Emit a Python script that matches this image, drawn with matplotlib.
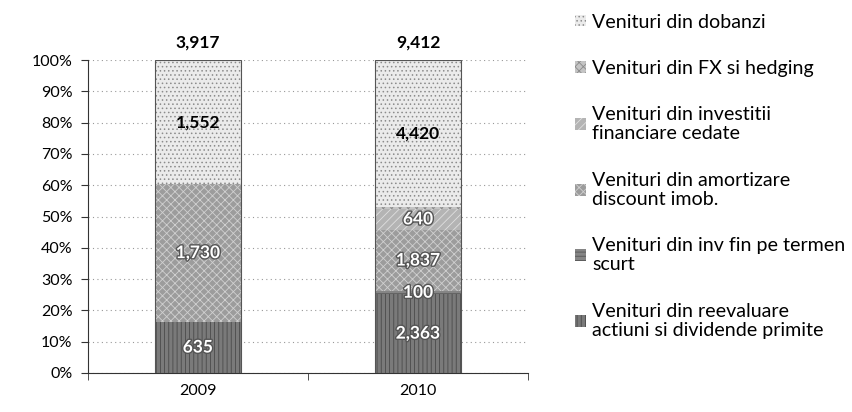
import matplotlib
matplotlib.use("Agg")
import matplotlib.pyplot as plt
import matplotlib.patheffects as pe
from matplotlib.patches import Patch
import numpy as np

plt.rcParams['font.family'] = ['Lato', 'DejaVu Sans']
plt.rcParams['hatch.linewidth'] = 0.6

years = ['2009', '2010']
totals = [3917, 9412]
# bottom -> top
categories = [
    'Venituri din reevaluare\nactiuni si dividende primite',
    'Venituri din inv fin pe termen\nscurt',
    'Venituri din amortizare\ndiscount imob.',
    'Venituri din investitii\nfinanciare cedate',
    'Venituri din FX si hedging',
    'Venituri din dobanzi',
]
reevaluare = [635, 2363]
inv_fin_scurt = [0, 100]
amortizare = [1730, 1837]
investitii_cedate = [0, 640]
fx_hedging = [0, 52]
dobanzi = [1552, 4420]
series = [reevaluare, inv_fin_scurt, amortizare, investitii_cedate, fx_hedging, dobanzi]
show_label = [True, True, True, True, False, True]

faces = ['#7a7a7a', '#858585', '#9c9c9c', '#b4b4b4', '#c4c4c4', '#ebebeb']
hatchc = ['#4a4a4a', '#555555', '#d0d0d0', '#e0e0e0', '#8a8a8a', '#8c8c8c']
hatches = ['||||', '----', 'xxxx', '////', 'xxxx', '....']

fig = plt.figure(figsize=(8.53, 4.12), dpi=100)
ax = fig.add_axes([0.103, 0.095, 0.516, 0.759])

x = np.arange(len(years))
width = 0.39
bottoms = np.zeros(len(years))
for i, s in enumerate(series):
    s = np.array(s, dtype=float)
    pct = s / np.array(totals) * 100
    ax.bar(x, pct, width, bottom=bottoms, color=faces[i], edgecolor=hatchc[i],
           hatch=hatches[i], linewidth=0, zorder=3)
    for j in range(len(years)):
        if s[j] > 0 and show_label[i]:
            y = bottoms[j] + pct[j] / 2
            if i == 5:
                ax.text(x[j], y, f'{int(s[j]):,}', ha='center', va='center',
                        fontsize=12.5, fontweight='bold', color='black', zorder=5)
            else:
                ax.text(x[j], y, f'{int(s[j]):,}', ha='center', va='center',
                        fontsize=12.5, fontweight='bold', color='white', zorder=5,
                        path_effects=[pe.withStroke(linewidth=2, foreground='#555555')])
    bottoms = bottoms + pct

# bar outlines
ax.bar(x, bottoms, width, fill=False, edgecolor='#555555', linewidth=0.8, zorder=4)

for j in range(len(years)):
    ax.text(x[j], 103, f'{totals[j]:,}', ha='center', va='bottom', fontsize=12.5,
            fontweight='bold', color='black')

ax.set_xlim(-0.5, 1.5)
ax.set_ylim(0, 100)
ax.set_yticks(np.arange(0, 101, 10))
ax.set_yticklabels([f'{v}%' for v in range(0, 101, 10)], fontsize=11.5)
ax.set_xticks(x)
ax.set_xticklabels(years, fontsize=11.5)
ax.set_xticks([-0.5, 0.5, 1.5], minor=True)
ax.tick_params(axis='x', which='major', length=0, pad=8)
ax.tick_params(axis='x', which='minor', length=5, direction='out', color='#333333')
ax.tick_params(axis='y', length=5, direction='out', color='#333333', pad=6)
ax.grid(axis='y', linestyle=(0, (1, 3)), color='#999999', linewidth=0.8, zorder=0)
for sp in ['top', 'right']:
    ax.spines[sp].set_visible(False)
ax.spines['left'].set_color('#333333')
ax.spines['bottom'].set_color('#333333')

handles = [Patch(facecolor=faces[i], edgecolor=hatchc[i], hatch=hatches[i], linewidth=0)
           for i in range(len(categories))][::-1]
labels = categories[::-1]
leg = fig.legend(handles, labels, loc='upper left', bbox_to_anchor=(0.654, 1.01),
                 frameon=False, fontsize=14.1, handlelength=0.55, handleheight=0.55,
                 handletextpad=0.3, labelspacing=1.5)
for t in leg.get_texts():
    t.set_linespacing(1.15)

fig.savefig('out.png', dpi=100)
